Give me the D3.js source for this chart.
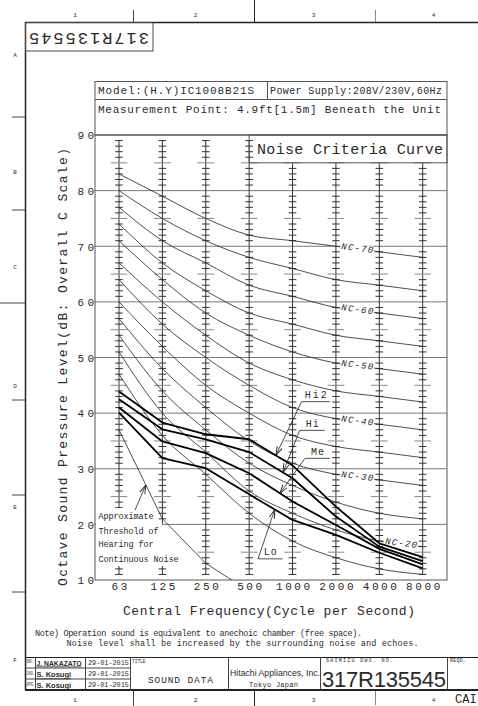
<!DOCTYPE html>
<html><head><meta charset="utf-8">
<script src="https://cdn.jsdelivr.net/npm/d3@7"></script>
<style>
body{margin:0;background:#fff;}
svg{display:block;font-family:"Liberation Mono","DejaVu Sans Mono",monospace;}
</style></head><body>
<svg id="c" width="478" height="706"></svg>
<script>
// ---------------- data ----------------
const freqs = ["63","125","250","500","1000","2000","4000","8000"];
const yTicks = [10,20,30,40,50,60,70,80,90];
const ncLevels = [70,65,60,55,50,45,40,35,30,25,20,15];
const nc70 = [83,79,75,72,71,70,69,68];
const nc65 = [80,75,71,68,66,64,63,62];
const nc60 = [77,71,67,63,61,59,58,57];
const nc55 = [74,67,62,58,56,54,53,52];
const nc50 = [71,64,58,54,51,49,48,47];
const nc45 = [67,60,54,49,46,44,43,42];
const nc40 = [64,56,50,45,41,39,38,37];
const nc35 = [60,52,45,40,36,34,33,32];
const nc30 = [57,48,41,35,31,29,28,27];
const nc25 = [54,44,37,31,27,24,22,21];
const nc20 = [51,40,33,26,22,19,17,16];
const nc15 = [47,36,29,22,17,14,12,11];
const threshold = [37,21,13,8];
const seriesNames = ["Hi2","Hi","Me","Lo"];
const hi2 = [43.9,38.3,36.2,35.3,30.6,23.2,16.6,14.1];
const hi  = [42.5,37.1,35.3,33.0,28.3,21.4,16.0,13.4];
const me  = [41.0,34.9,32.8,29.2,24.1,19.9,15.6,12.8];
const lo  = [40.1,31.9,30.1,25.4,20.8,18.1,14.9,12.1];
const ncLabelled = [70,60,50,40,30,20];

// ---------------- setup ----------------
const svg = d3.select("#c");
const ncData = [nc70,nc65,nc60,nc55,nc50,nc45,nc40,nc35,nc30,nc25,nc20,nc15];
const series = [hi2,hi,me,lo];
const x = d3.scalePoint().domain(freqs).range([119,422.7]);
const xi = d3.scaleLinear().domain([0,freqs.length-1]).range([119,422.7]);
const y = d3.scaleLinear().domain([10,90]).range([580,135]);
const L=95, R=447, T=y(90), B=y(10);
const ink="#2a2a2a";

function txt(g, s, px, py, opt={}) {
  const t = g.append("text").attr("x",px).attr("y",py).text(s)
    .attr("fill", opt.fill||ink)
    .attr("font-size", opt.size||10)
    .attr("text-anchor", opt.anchor||"start")
    .attr("dominant-baseline", opt.base||"central");
  if (opt.len) t.attr("textLength",opt.len).attr("lengthAdjust",opt.adj||"spacing");
  if (opt.family) t.attr("font-family",opt.family);
  if (opt.weight) t.attr("font-weight",opt.weight);
  if (opt.style) t.attr("font-style",opt.style);
  if (opt.ls) t.attr("letter-spacing",opt.ls);
  if (opt.deco) t.attr("text-decoration",opt.deco);
  return t;
}
function ln(g,x1,y1,x2,y2,st="#333",w=1){
  return g.append("line").attr("x1",x1).attr("y1",y1).attr("x2",x2).attr("y2",y2)
    .attr("stroke",st).attr("stroke-width",w);
}

// ---------------- page frame ----------------
const fr = svg.append("g");
ln(fr,25.5,22,25.5,690,"#222",1.5);
ln(fr,25,22.5,478,22.5,"#222",1.5);
ln(fr,133.5,10,133.5,22,"#444");
ln(fr,254.5,0,254.5,22,"#222");
ln(fr,375.5,10,375.5,22,"#888");
[["1",75],["2",195.5],["3",313.5],["4",433.5]].forEach(d=>{
  txt(fr,d[0],d[1],15,{size:6,anchor:"middle"});
  txt(fr,d[0],d[1],700,{size:6,anchor:"middle"});
});
ln(fr,133.5,691,133.5,706,"#444");
ln(fr,254.5,691,254.5,706,"#222");
ln(fr,375.5,691,375.5,705,"#888");
[["A",55],["B",172],["C",267],["D",386],["E",507],["F",660]].forEach(d=>txt(fr,d[0],15,d[1],{size:6,anchor:"middle"}));
[117,210,400,495,592].forEach(v=>ln(fr,12,v,25,v,"#444"));
ln(fr,0,303,25,303,"#444");
// upside-down stamp
fr.append("rect").attr("x",25.5).attr("y",22.5).attr("width",127.5).attr("height",28.5)
  .attr("fill","none").attr("stroke","#444");
txt(fr,"317R135545",0,0,{size:17,anchor:"middle",len:120})
  .attr("transform","translate(89,37) rotate(180)");
txt(fr,"CAI",455,700,{size:12});

// ---------------- header box ----------------
const hd = svg.append("g");
hd.append("rect").attr("x",L).attr("y",81.5).attr("width",R-L).attr("height",T-81.5)
  .attr("fill","none").attr("stroke","#555");
ln(hd,L,99.5,R,99.5,"#555");
ln(hd,267.5,81.5,267.5,99.5,"#555");
txt(hd,"Model:(H.Y)IC1008B21S",98,91,{size:11,len:156});
txt(hd,"Power Supply:208V/230V,60Hz",270,91,{size:10,len:172});
txt(hd,"Measurement Point: 4.9ft[1.5m] Beneath the Unit",98,110,{size:11,len:343});

// ---------------- grid ----------------
const grid = svg.append("g");
yTicks.filter(v=>v>10&&v<90).forEach(v=>ln(grid,L,y(v),R,y(v),"#777",1));
const dbs = d3.range(11,90).filter(v=>v%10!==0);
freqs.forEach((f,i)=>{
  const top = i>=4 ? 85 : 89;
  ln(grid,x(f),y(top),x(f),y(11),"#333",1);
  dbs.filter(v=>v<=top).forEach(v=>{
    const w = v%5===0 ? 8.3 : 3.8;
    ln(grid,x(f)-w,y(v),x(f)+w,y(v), v%5===0?"#888":"#333",1);
  });
});
// frame of plot
grid.append("rect").attr("x",L).attr("y",T).attr("width",R-L).attr("height",B-T)
  .attr("fill","none").attr("stroke","#555").attr("stroke-width",1);
// Noise Criteria box
grid.append("rect").attr("x",x("500")).attr("y",T).attr("width",R-x("500")).attr("height",y(85)-T)
  .attr("fill","none").attr("stroke","#555");
txt(grid,"Noise Criteria Curve",257,150.5,{size:15,len:186});

// white area behind threshold label
grid.append("rect").attr("x",L+1).attr("y",508).attr("width",61).attr("height",17).attr("fill","#fff");
grid.append("rect").attr("x",L+1).attr("y",y(20)-1).attr("width",x("125")-L-1).attr("height",2).attr("fill","#fff");
grid.append("rect").attr("x",L+1).attr("y",y(20)+0.8).attr("width",x("125")-L+9).attr("height",566-y(20)-0.8).attr("fill","#fff");

// ---------------- axes ----------------
const ax = svg.append("g");
const yAxis = d3.axisLeft(y).tickValues(yTicks).tickSize(0).tickPadding(0).tickFormat(d3.format("d"));
ax.append("g").attr("transform",`translate(${L-1},0)`).call(yAxis)
  .call(g=>g.select(".domain").remove())
  .call(g=>g.selectAll("text").attr("font-family","Liberation Mono").attr("font-size",11)
      .attr("letter-spacing",3.2).attr("fill",ink).attr("dx",3.2).attr("dy","0.35em"));
const xAxis = d3.axisBottom(x).tickSize(0).tickPadding(0);
ax.append("g").attr("transform",`translate(0,${B+4})`).call(xAxis)
  .call(g=>g.select(".domain").remove())
  .call(g=>g.selectAll("text").attr("font-family","Liberation Mono").attr("font-size",11)
      .attr("letter-spacing",2.6).attr("fill",ink).attr("dx",1.3).attr("dy","0.5em"));
txt(ax,"Central Frequency(Cycle per Second)",123,611,{size:13,len:292});
txt(ax,"Octave Sound Pressure Level(dB: Overall C Scale)",0,0,{size:13,len:438,anchor:"middle"})
  .attr("transform","translate(63,367) rotate(-90)");

// ---------------- NC curves ----------------
const curves = svg.append("g");
const smooth = d3.line().x((d,i)=>x(freqs[i])).y(d=>y(d)).curve(d3.curveMonotoneX);
curves.selectAll("path.nc").data(ncData).join("path").attr("class","nc")
  .attr("d",smooth).attr("fill","none").attr("stroke","#222").attr("stroke-width",0.8);

// NC labels
ncLabelled.forEach(lv=>{
  const vals = ncData[ncLevels.indexOf(lv)];
  const i0 = lv===20 ? 6 : 5;
  const t = lv===20 ? 0.5 : 0.49;
  const px = xi(i0+t);
  const v = vals[i0]+(vals[i0+1]-vals[i0])*t;
  const ang = Math.atan2(y(vals[i0+1])-y(vals[i0]), xi(i0+1)-xi(i0))*180/Math.PI;
  const g = curves.append("g").attr("transform",`translate(${px},${y(v)}) rotate(${ang})`);
  g.append("rect").attr("x",-17).attr("y",-4.5).attr("width",34).attr("height",9).attr("fill","#fff");
  txt(g,`NC-${lv}`,0,0,{size:9,anchor:"middle",style:"italic",len:32});
});

// threshold of hearing
const thrLine = d3.line().x((d,i)=>x(freqs[i])).y(d=>y(d));
const clipId="plotclip";
svg.append("clipPath").attr("id",clipId).append("rect").attr("x",L).attr("y",T).attr("width",R-L).attr("height",B-T);
curves.append("path").datum(threshold).attr("d",thrLine).attr("fill","none")
  .attr("stroke","#222").attr("stroke-width",0.8).attr("clip-path",`url(#${clipId})`);

// ---------------- series ----------------
const sl = d3.line().x((d,i)=>x(freqs[i])).y(d=>y(d));
curves.selectAll("path.s").data(series).join("path").attr("class","s")
  .attr("d",sl).attr("fill","none").attr("stroke","#000").attr("stroke-width",1.8)
  .attr("stroke-linejoin","round");

// ---------------- annotations ----------------
const defs = svg.append("defs");
defs.append("marker").attr("id","arr").attr("viewBox","0 0 10 10").attr("refX",10).attr("refY",5)
  .attr("markerWidth",9).attr("markerHeight",9).attr("orient","auto-start-reverse")
  .attr("markerUnits","userSpaceOnUse")
  .append("path").attr("d","M0,2 L10,5 L0,8").attr("fill","none").attr("stroke","#222").attr("stroke-width",1);
const an = svg.append("g");
function onSeries(vals, t){
  const i=Math.floor(t), f=t-i;
  return [xi(t), y(vals[i]+(vals[i+1]-vals[i])*f)];
}
// [series index, position along x (index), dx, dy to leader start, underline length]
const notes = [[0,3.615,25.7,-53.7,28.3],[1,3.78,16.7,-42.1,25],[2,3.71,25,-35,25],[3,3.59,-16.7,49.4,24.5]];
notes.forEach((n,k)=>{
  const [tx,ty] = onSeries(series[n[0]], n[1]);
  const sx = tx+n[2], sy = ty+n[3];
  an.append("rect").attr("x",sx+1).attr("y",sy-11).attr("width",n[4]-1).attr("height",10).attr("fill","#fff");
  ln(an,sx,sy,tx,ty,"#222",0.8).attr("marker-end","url(#arr)");
  ln(an,sx,sy,sx+n[4],sy,"#222",0.8);
  const lab = seriesNames[k];
  txt(an,lab,sx+n[4]/2,sy-6,{size:10,anchor:"middle",len:lab.length===3?22:13});
});
// threshold annotation
const thrT = 0.62;
const tip = [xi(thrT), y(threshold[0]+(threshold[1]-threshold[0])*thrT)];
ln(an,135,510,tip[0],tip[1],"#222",0.8).attr("marker-end","url(#arr)");
[["Approximate",516.5,55],["Threshold of",531.5,60],["Hearing for",544.5,55],["Continuous Noise",559.5,80]]
  .forEach(d=>txt(an,d[0],98.5,d[1],{size:8.5,len:d[2]}));

// ---------------- notes ----------------
const nt = svg.append("g");
txt(nt,"Note) Operation sound is equivalent to anechoic chamber (free space).",35,634,{size:8.5,len:327});
txt(nt,"Noise level shall be increased by the surrounding noise and echoes.",66.5,643.5,{size:8.5,len:352});

// ---------------- title block ----------------
const tb = svg.append("g");
ln(tb,25,657.5,478,657.5,"#222",1.2);
ln(tb,25,690,478,690,"#222",1.8);
ln(tb,25,668,130,668,"#444");
ln(tb,25,679,130,679,"#444");
[35.5,85.5,130.5,228.5,320.5,447.5].forEach(v=>ln(tb,v,657.5,v,690,"#444"));
[["DWN.",661.5],["CHKD.",673.5],["APPD.",684.5]].forEach(d=>
  txt(tb,d[0],0,0,{size:4.5}).attr("transform",`translate(26.5,${d[1]}) scale(0.6,1)`));
[["J. NAKAZATO",663],["S. Kosugi",674],["S. Kosugi",685]].forEach(d=>
  txt(tb,d[0],36.5,d[1],{size:d[0].length>9?6.8:7.5,family:"Liberation Sans Narrow, Liberation Sans",weight:"bold",deco:"underline"}));
[663,674,685].forEach(v=>txt(tb,"29-01-2015",88,v,{size:6.8}));
txt(tb,"TITLE",132,661.5,{size:4.5});
txt(tb,"SOUND DATA",148,680,{size:9.5,len:65});
txt(tb,"Hitachi Appliances, Inc.",230,672.5,{size:9,len:90,adj:"spacingAndGlyphs",family:"Liberation Sans Narrow, Liberation Sans"});
txt(tb,"Tokyo Japan",249,684.5,{size:7,len:49});
txt(tb,"SHIMIZU DWG. NO.",326,661,{size:5,len:67});
txt(tb,"317R135545",322,679,{size:22,len:124,family:"Liberation Sans Narrow, Liberation Sans"});
txt(tb,"REQD.",450,661,{size:5,len:16});
</script>
</body></html>
